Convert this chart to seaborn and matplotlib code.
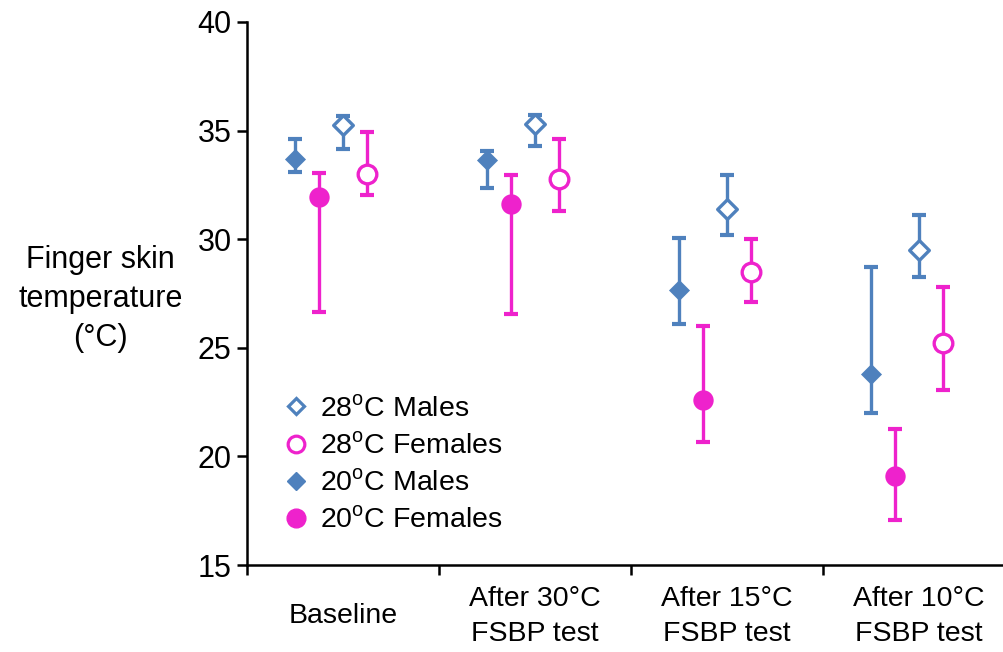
import numpy as np
import seaborn as sns
import matplotlib.pyplot as plt
from matplotlib.lines import Line2D

# ---------------- data ----------------
phases = ['Baseline', 'After 30°C\nFSBP test', 'After 15°C\nFSBP test', 'After 10°C\nFSBP test']

m20_mean = [33.7, 33.65, 27.65, 23.8]
m20_low = [33.1, 32.35, 26.1, 22.0]
m20_high = [34.6, 34.05, 30.05, 28.7]

f20_mean = [31.95, 31.6, 22.6, 19.1]
f20_low = [26.65, 26.55, 20.65, 17.05]
f20_high = [33.05, 32.95, 26.0, 21.25]

m28_mean = [35.25, 35.3, 31.4, 29.5]
m28_low = [34.15, 34.3, 30.2, 28.25]
m28_high = [35.65, 35.7, 32.95, 31.1]

f28_mean = [33.0, 32.75, 28.5, 25.2]
f28_low = [32.05, 31.3, 27.1, 23.05]
f28_high = [34.95, 34.6, 30.0, 27.8]

BLUE = '#4F81BD'
PINK = '#EE22CC'

sns.set_style('white', {'text.color': 'black', 'axes.labelcolor': 'black',
                        'xtick.color': 'black', 'ytick.color': 'black',
                        'axes.edgecolor': 'black'})
plt.rcParams['font.family'] = ['Liberation Sans', 'DejaVu Sans']

fig = plt.figure(figsize=(10.04, 6.52), dpi=100)
ax = fig.add_axes([0.246, 0.1334, 0.765, 0.833])

# (mean, low, high, offset, marker, size, filled, colour)
groups = [
    (m20_mean, m20_low, m20_high, -0.25, 'D', 115, True, BLUE),
    (f20_mean, f20_low, f20_high, -0.125, 'o', 215, True, PINK),
    (m28_mean, m28_low, m28_high, 0.0, 'D', 100, False, BLUE),
    (f28_mean, f28_low, f28_high, 0.125, 'o', 180, False, PINK),
]

base_x = np.arange(len(phases))
for mean, low, high, off, marker, size, filled, col in groups:
    x = base_x + off
    mean = np.array(mean)
    yerr = [mean - np.array(low), np.array(high) - mean]
    ax.errorbar(x, mean, yerr=yerr, fmt='none', ecolor=col, elinewidth=2.4,
                capsize=4.8, capthick=3.0, zorder=2)
    sns.scatterplot(x=x, y=mean, marker=marker, s=size,
                    color=col if filled else 'white', edgecolor=col,
                    linewidth=0 if filled else 2.4, zorder=3, legend=False, ax=ax)

ax.set_ylim(15, 40)
ax.set_yticks([15, 20, 25, 30, 35, 40])
ax.set_xlim(-0.5, 3.5)
ax.set_xticks(base_x)
ax.set_xticklabels(phases, fontsize=20.5, linespacing=1.45)
for lab in ax.get_xticklabels():
    lab.set_va('center')
ax.set_xticks([-0.5, 0.5, 1.5, 2.5], minor=True)
ax.tick_params(axis='x', which='major', bottom=True, length=0, pad=37)
ax.tick_params(axis='x', which='minor', bottom=True, length=7, width=1.8,
               direction='out', color='black')
ax.tick_params(axis='y', left=True, length=7, width=1.8, direction='out',
               labelsize=22, pad=4, color='black')
ax.set_xlabel('')

for side in ['top', 'right']:
    ax.spines[side].set_visible(False)
for side in ['left', 'bottom']:
    ax.spines[side].set_linewidth(1.8)
    ax.spines[side].set_color('black')

ax.set_ylabel('Finger skin\ntemperature\n(°C)', rotation=0, fontsize=22,
              ha='center', va='center', linespacing=1.4)
ax.yaxis.set_label_coords(-0.191, 0.49)

deg = r'$^\mathregular{o}$'
handles = [
    Line2D([], [], ls='none', marker='D', ms=8.5, mfc='white', mec=BLUE, mew=2.3),
    Line2D([], [], ls='none', marker='o', ms=12, mfc='white', mec=PINK, mew=2.3),
    Line2D([], [], ls='none', marker='D', ms=9.5, mfc=BLUE, mec=BLUE),
    Line2D([], [], ls='none', marker='o', ms=13.5, mfc=PINK, mec=PINK),
]
labels = ['28' + deg + 'C Males', '28' + deg + 'C Females',
          '20' + deg + 'C Males', '20' + deg + 'C Females']
ax.legend(handles, labels, loc='upper left', bbox_to_anchor=(0.03, 0.333),
          frameon=False, fontsize=20.5, handlelength=1.0, handletextpad=0.35,
          labelspacing=0.37, borderaxespad=0)

fig.savefig('out.png', dpi=100)
